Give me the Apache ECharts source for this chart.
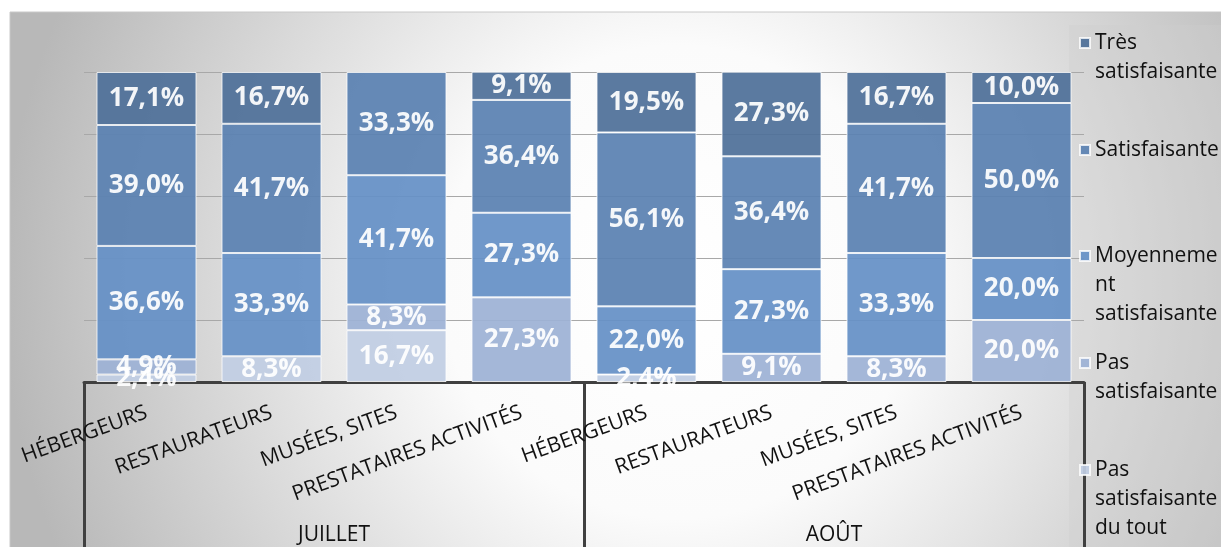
<!DOCTYPE html>
<html>
<head>
<meta charset="utf-8">
<title>Satisfaction</title>
<script src="https://cdn.jsdelivr.net/npm/echarts@6/dist/echarts.min.js"></script>
<style>
  html, body { margin: 0; padding: 0; background: #fff; }
  #main { width: 1221px; height: 547px; }
</style>
</head>
<body>
<div id="main"></div>
<script>
// ===================== data =====================
const categories = [
  'HÉBERGEURS', 'RESTAURATEURS', 'MUSÉES, SITES', 'PRESTATAIRES ACTIVITÉS',
  'HÉBERGEURS', 'RESTAURATEURS', 'MUSÉES, SITES', 'PRESTATAIRES ACTIVITÉS'
]
const months = ['JUILLET', 'AOÛT']

const tresSatisf = [17.1, 16.7, 0, 9.1, 19.5, 27.3, 16.7, 10.0]
const satisf = [39.0, 41.7, 33.3, 36.4, 56.1, 36.4, 41.7, 50.0]
const moyennement = [36.6, 33.3, 41.7, 27.3, 22.0, 27.3, 33.3, 20.0]
const pasSatisf = [4.9, 0, 8.3, 27.3, 0, 9.1, 8.3, 20.0]
const pasDuTout = [2.4, 8.3, 16.7, 0, 2.4, 0, 0, 0]

// bas -> haut de la pile
const seriesDefs = [
  { name: 'Pas satisfaisante du tout', label: 'Pas\nsatisfaisante\ndu tout', data: pasDuTout, color: '#c1cde3' },
  { name: 'Pas satisfaisante', label: 'Pas\nsatisfaisante', data: pasSatisf, color: '#9db1d5' },
  { name: 'Moyennement satisfaisante', label: 'Moyenneme\nnt\nsatisfaisante', data: moyennement, color: '#6590c6' },
  { name: 'Satisfaisante', label: 'Satisfaisante', data: satisf, color: '#5a81b1' },
  { name: 'Très satisfaisante', label: 'Très\nsatisfaisante', data: tresSatisf, color: '#4f7099' },
]

const FONT = "'Open Sans', 'DejaVu Sans', sans-serif"
const LINE_H = 29

const main = document.getElementById('main')
const myChart = echarts.init(main)

// ===================== legends =====================
// une légende par item ; lignes vides devant pour caler l'icône sur la 1re ligne
const legendFirstLine = [43, 150, 256, 363, 470]
const legends = seriesDefs.slice().reverse().map((s, i) => {
  const n = s.label.split('\n').length
  return {
    data: [s.name],
    orient: 'vertical',
    left: 1079,
    top: legendFirstLine[i] - LINE_H / 2 - (n - 1) * LINE_H,
    padding: 0,
    itemWidth: 10,
    itemHeight: 10,
    itemGap: 6,
    icon: 'rect',
    selectedMode: false,
    formatter: () => '\n'.repeat(n - 1) + s.label,
    textStyle: {
      fontFamily: FONT,
      fontSize: 21,
      color: '#111',
      lineHeight: LINE_H,
    },
  }
})

const option = {
  backgroundColor: '#fff',
  animation: false,
  graphic: [
    {
      type: 'rect',
      z: -10,
      shape: { x: 10, y: 12, width: 1215, height: 540 },
      style: {
        fill: {
          type: 'radial', x: 0.55, y: 0.5, r: 1.25,
          colorStops: [
            { offset: 0, color: '#ffffff' },
            { offset: 0.35, color: '#fbfbfb' },
            { offset: 1, color: '#b8b8b8' },
          ],
        },
        stroke: '#c8c8c8',
        lineWidth: 1,
      },
    },
    {
      type: 'rect',
      z: -9,
      shape: { x: 1069, y: 25, width: 160, height: 530 },
      style: { fill: 'rgba(205,205,205,0.35)' },
    },
  ],
  legend: legends,
  grid: { left: 84, right: 137, top: 72, bottom: 165 },
  xAxis: [
    {
      type: 'category',
      data: categories,
      position: 'bottom',
      axisLine: { show: false },
      axisTick: { show: false },
      axisLabel: {
        interval: 0,
        rotate: 20,
        margin: 30,
        fontFamily: FONT,
        fontSize: 21,
        color: '#111',
      },
    },
    {
      type: 'category',
      data: months,
      position: 'bottom',
      axisLine: { show: true, lineStyle: { color: '#404040', width: 3 } },
      axisTick: { show: true, interval: 0, length: 175, lineStyle: { color: '#404040', width: 3 } },
      axisLabel: {
        interval: 0,
        margin: 143,
        fontFamily: FONT,
        fontSize: 21,
        color: '#111',
      },
      splitLine: { show: false },
    },
  ],
  yAxis: {
    type: 'value',
    min: 0,
    max: 100,
    interval: 20,
    axisLabel: { show: false },
    axisLine: { show: false },
    axisTick: { show: false },
    splitLine: { show: true, lineStyle: { color: '#a8a8a8', width: 1 } },
  },
  series: seriesDefs.map((s) => ({
    name: s.name,
    type: 'bar',
    stack: 'total',
    barCategoryGap: '20%',
    data: s.data.map((v) => (v === 0 ? '-' : v)),
    itemStyle: {
      color: s.color,
      opacity: 0.93,
      borderColor: 'rgba(255,255,255,0.85)',
      borderWidth: 1,
    },
    label: {
      show: true,
      position: 'inside',
      fontFamily: FONT,
      fontWeight: 'bold',
      fontSize: 26,
      color: '#fff',
      formatter: (p) => p.value.toFixed(1).replace('.', ',') + '%',
    },
  })),
}
myChart.setOption(option)
</script>
</body>
</html>
